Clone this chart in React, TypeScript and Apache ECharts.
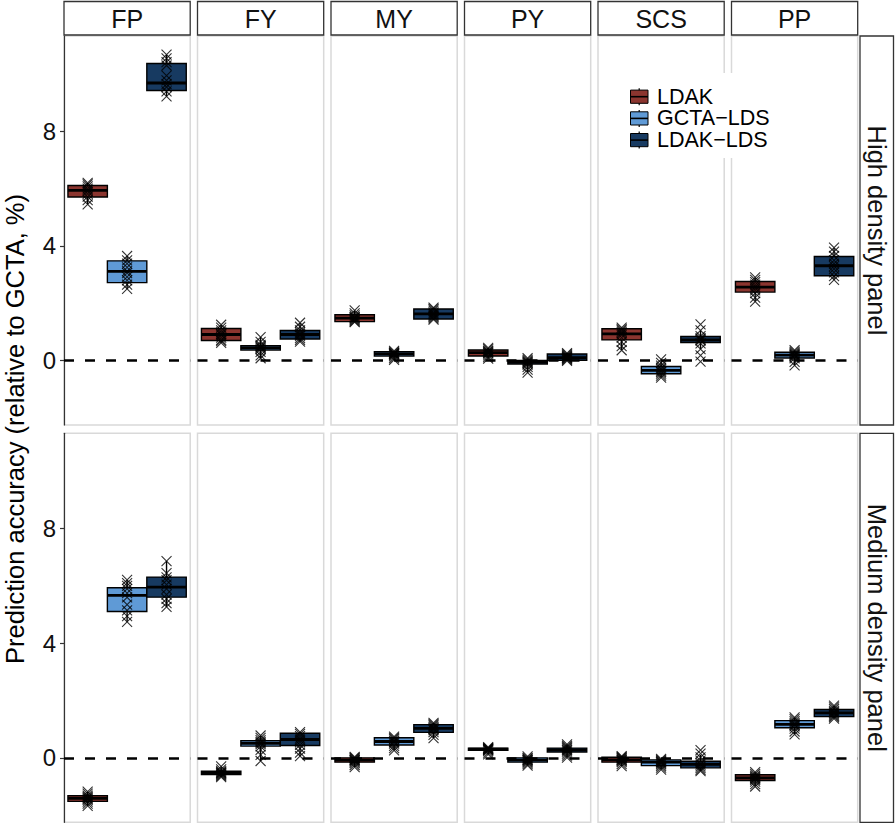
import React, { useEffect, useRef } from "react";
import * as echarts from "echarts";

const traits = ["FP", "FY", "MY", "PY", "SCS", "PP"];
const methods = ["LDAK", "GCTA−LDS", "LDAK−LDS"];
const panelLabels = ["High density panel", "Medium density panel"];
const yTitle = "Prediction accuracy (relative to GCTA, %)";
const yTicks = [0, 4, 8];
const yRange = [-2.25, 11.33];

// box stats per method: [lower whisker, Q1, median, Q3, upper whisker]
const highFP = [[5.45, 5.71, 5.94, 6.11, 6.2], [2.5, 2.72, 3.11, 3.48, 3.65], [9.22, 9.43, 9.69, 10.37, 10.68]];
const highFY = [[0.62, 0.7, 0.91, 1.12, 1.25], [0.08, 0.37, 0.45, 0.52, 0.82], [0.66, 0.75, 0.91, 1.05, 1.32]];
const highMY = [[1.34, 1.36, 1.48, 1.6, 1.75], [0.02, 0.16, 0.24, 0.31, 0.34], [1.43, 1.45, 1.63, 1.8, 1.85]];
const highPY = [[0.07, 0.16, 0.28, 0.37, 0.44], [-0.42, -0.12, -0.06, 0.0, 0.08], [-0.01, 0.01, 0.1, 0.23, 0.26]];
const highSCS = [[0.36, 0.72, 0.93, 1.11, 1.15], [-0.6, -0.46, -0.34, -0.21, 0.04], [0.4, 0.63, 0.72, 0.84, 1.05]];
const highPP = [[2.06, 2.39, 2.56, 2.76, 2.9], [-0.17, 0.09, 0.19, 0.29, 0.36], [2.82, 2.96, 3.31, 3.63, 3.94]];

const medFP = [[-1.68, -1.52, -1.41, -1.32, -1.18], [4.75, 5.11, 5.67, 5.94, 6.21], [5.27, 5.61, 5.96, 6.31, 6.87]];
const medFY = [[-0.67, -0.58, -0.52, -0.47, -0.3], [-0.11, 0.41, 0.51, 0.6, 0.78], [0.06, 0.43, 0.64, 0.86, 0.9]];
const medMY = [[-0.32, -0.15, -0.08, 0.0, 0.03], [0.26, 0.45, 0.57, 0.7, 0.74], [0.69, 0.89, 1.03, 1.16, 1.22]];
const medPY = [[0.12, 0.26, 0.3, 0.34, 0.37], [-0.27, -0.15, -0.08, 0.0, 0.05], [0.01, 0.2, 0.27, 0.34, 0.47]];
const medSCS = [[-0.29, -0.15, -0.07, 0.02, 0.06], [-0.41, -0.27, -0.15, -0.07, -0.04], [-0.46, -0.35, -0.23, -0.12, 0.1]];
const medPP = [[-1.0, -0.79, -0.7, -0.59, -0.5], [0.82, 1.05, 1.17, 1.3, 1.41], [1.37, 1.44, 1.57, 1.69, 1.82]];

// individual replicate values per method
const highFPPts = [
  [6.2, 6.15, 6.08, 6.0, 5.95, 5.9, 5.82, 5.72, 5.6, 5.45],
  [3.65, 3.5, 3.38, 3.25, 3.12, 3.05, 2.92, 2.8, 2.65, 2.5],
  [10.68, 10.55, 10.42, 10.3, 9.95, 9.78, 9.65, 9.55, 9.4, 9.22],
];
const highFYPts = [
  [1.25, 1.15, 1.05, 0.98, 0.92, 0.88, 0.8, 0.72, 0.68, 0.62],
  [0.82, 0.65, 0.55, 0.5, 0.47, 0.44, 0.4, 0.3, 0.18, 0.08],
  [1.32, 1.18, 1.05, 0.98, 0.93, 0.9, 0.85, 0.78, 0.72, 0.66],
];
const highMYPts = [
  [1.75, 1.65, 1.58, 1.52, 1.5, 1.47, 1.44, 1.4, 1.37, 1.34],
  [0.34, 0.3, 0.27, 0.25, 0.24, 0.22, 0.2, 0.15, 0.08, 0.02],
  [1.85, 1.8, 1.74, 1.68, 1.64, 1.6, 1.56, 1.52, 1.47, 1.43],
];
const highPYPts = [
  [0.44, 0.4, 0.35, 0.32, 0.29, 0.27, 0.24, 0.18, 0.12, 0.07],
  [0.08, 0.02, -0.02, -0.05, -0.07, -0.1, -0.14, -0.22, -0.32, -0.42],
  [0.26, 0.22, 0.18, 0.15, 0.12, 0.1, 0.08, 0.05, 0.02, -0.01],
];
const highSCSPts = [
  [1.15, 1.1, 1.05, 1.0, 0.95, 0.9, 0.8, 0.65, 0.5, 0.36],
  [0.04, -0.08, -0.18, -0.25, -0.3, -0.35, -0.4, -0.46, -0.53, -0.6],
  [1.26, 1.05, 0.85, 0.78, 0.74, 0.7, 0.6, 0.4, 0.18, -0.04],
];
const highPPPts = [
  [2.9, 2.82, 2.74, 2.65, 2.58, 2.52, 2.45, 2.35, 2.2, 2.06],
  [0.36, 0.3, 0.26, 0.22, 0.2, 0.17, 0.14, 0.08, -0.05, -0.17],
  [3.94, 3.8, 3.65, 3.5, 3.38, 3.3, 3.2, 3.08, 2.95, 2.82],
];

const medFPPts = [
  [-1.18, -1.25, -1.32, -1.36, -1.4, -1.43, -1.47, -1.53, -1.6, -1.68],
  [6.21, 6.1, 6.0, 5.9, 5.75, 5.6, 5.35, 5.15, 4.95, 4.75],
  [6.87, 6.45, 6.3, 6.2, 6.05, 5.9, 5.7, 5.55, 5.4, 5.27],
];
const medFYPts = [
  [-0.3, -0.4, -0.46, -0.5, -0.52, -0.54, -0.57, -0.6, -0.64, -0.67],
  [0.78, 0.7, 0.62, 0.56, 0.52, 0.48, 0.4, 0.28, 0.1, -0.11],
  [0.9, 0.84, 0.76, 0.68, 0.62, 0.55, 0.45, 0.32, 0.18, 0.06],
];
const medMYPts = [
  [0.03, 0.0, -0.03, -0.06, -0.08, -0.1, -0.13, -0.18, -0.25, -0.32],
  [0.74, 0.7, 0.65, 0.6, 0.57, 0.54, 0.5, 0.42, 0.34, 0.26],
  [1.22, 1.18, 1.13, 1.08, 1.04, 1.01, 0.97, 0.9, 0.8, 0.69],
];
const medPYPts = [
  [0.37, 0.35, 0.33, 0.31, 0.3, 0.29, 0.27, 0.24, 0.18, 0.12],
  [0.05, 0.0, -0.03, -0.06, -0.08, -0.1, -0.13, -0.17, -0.22, -0.27],
  [0.47, 0.42, 0.37, 0.33, 0.29, 0.26, 0.22, 0.15, 0.08, 0.01],
];
const medSCSPts = [
  [0.06, 0.03, 0.0, -0.03, -0.06, -0.08, -0.11, -0.15, -0.22, -0.29],
  [-0.04, -0.08, -0.11, -0.14, -0.16, -0.19, -0.23, -0.28, -0.34, -0.41],
  [0.27, 0.15, 0.02, -0.1, -0.18, -0.24, -0.3, -0.36, -0.42, -0.46],
];
const medPPPts = [
  [-0.5, -0.56, -0.62, -0.66, -0.7, -0.73, -0.77, -0.83, -0.92, -1.0],
  [1.41, 1.35, 1.28, 1.22, 1.18, 1.14, 1.1, 1.02, 0.92, 0.82],
  [1.82, 1.76, 1.7, 1.64, 1.6, 1.56, 1.52, 1.47, 1.42, 1.37],
];

const rowBoxes = [
  [highFP, highFY, highMY, highPY, highSCS, highPP],
  [medFP, medFY, medMY, medPY, medSCS, medPP],
];
const rowPoints = [
  [highFPPts, highFYPts, highMYPts, highPYPts, highSCSPts, highPPPts],
  [medFPPts, medFYPts, medMYPts, medPYPts, medSCSPts, medPPPts],
];

const COLORS = ["#8B352F", "#5F9AD6", "#173A61"];
const FONT = "'Liberation Sans', Arial, Helvetica, sans-serif";
const COL_LEFT = 64;
const PANEL_W = 126.2;
const STEP = 133.5;
const ROW_TOP = [36, 433.3];
const ROW_H = 389;
const STRIP = 33.5;
const BOX_W = 1.0;

export default function App() {
  const ref = useRef<HTMLDivElement>(null);

  useEffect(() => {
    if (!ref.current) return;
    const chart = echarts.init(ref.current, null, { renderer: "svg" });

    const grids: any[] = [];
    const xAxes: any[] = [];
    const yAxes: any[] = [];
    const series: any[] = [];

    for (let r = 0; r < 2; r++) {
      for (let c = 0; c < 6; c++) {
        const idx = r * 6 + c;
        grids.push({
          left: COL_LEFT + c * STEP,
          top: ROW_TOP[r],
          width: PANEL_W,
          height: ROW_H,
          show: true,
          borderColor: "#d9d9d9",
          borderWidth: 1.5,
          backgroundColor: "transparent",
        });
        xAxes.push({ type: "value", gridIndex: idx, min: 0.4, max: 3.6, show: false });
        yAxes.push({
          type: "value",
          gridIndex: idx,
          min: yRange[0],
          max: yRange[1],
          axisLine: { show: c === 0, onZero: false, lineStyle: { color: "#333", width: 1.2 } },
          axisTick: { show: c === 0, length: 4, customValues: yTicks, lineStyle: { color: "#333", width: 1.2 } },
          axisLabel: {
            show: c === 0,
            customValues: yTicks,
            fontSize: 24,
            color: "#111",
            margin: 8,
            fontFamily: FONT,
          },
          splitLine: { show: false },
        });
        const boxes = rowBoxes[r][c];
        const pts = rowPoints[r][c];
        series.push({
          type: "line",
          xAxisIndex: idx,
          yAxisIndex: idx,
          data: [],
          z: 1,
          silent: true,
          markLine: {
            silent: true,
            symbol: ["none", "none"],
            label: { show: false },
            lineStyle: { color: "#000", type: [10, 11], width: 2.6 },
            data: [{ yAxis: 0 }],
          },
        });
        series.push({
          type: "custom",
          xAxisIndex: idx,
          yAxisIndex: idx,
          z: 2,
          silent: true,
          encode: { x: 0, y: [1, 2, 3, 4, 5] },
          data: boxes.map((b, m) => [m + 1, b[0], b[1], b[2], b[3], b[4], m]),
          renderItem: (params: any, api: any) => {
            const x = api.value(0);
            const lo = api.coord([x, api.value(1)]);
            const q1 = api.coord([x, api.value(2)]);
            const md = api.coord([x, api.value(3)]);
            const q3 = api.coord([x, api.value(4)]);
            const hi = api.coord([x, api.value(5)]);
            const m = api.value(6);
            const w = api.size([BOX_W, 0])[0];
            const cx = q1[0];
            return {
              type: "group",
              children: [
                { type: "line", shape: { x1: cx, y1: hi[1], x2: cx, y2: q3[1] }, style: { stroke: "#000", lineWidth: 1.4 } },
                { type: "line", shape: { x1: cx, y1: q1[1], x2: cx, y2: lo[1] }, style: { stroke: "#000", lineWidth: 1.4 } },
                {
                  type: "rect",
                  shape: { x: cx - w / 2, y: q3[1], width: w, height: q1[1] - q3[1] },
                  style: { fill: COLORS[m], stroke: "#000", lineWidth: 1.4 },
                },
                {
                  type: "line",
                  shape: { x1: cx - w / 2, y1: md[1], x2: cx + w / 2, y2: md[1] },
                  style: { stroke: "#000", lineWidth: 2.8 },
                },
              ],
            };
          },
        });
        series.push({
          type: "scatter",
          xAxisIndex: idx,
          yAxisIndex: idx,
          z: 3,
          silent: true,
          symbol: "path://M0 0L10 10M10 0L0 10",
          symbolSize: 10,
          itemStyle: { color: "transparent", borderColor: "#000", borderWidth: 1.1 },
          data: pts.flatMap((arr, m) => arr.map((v) => [m + 1, v])),
        });
      }
    }

    const graphics: any[] = [];
    // top strips
    traits.forEach((t, c) => {
      const x = COL_LEFT + c * STEP;
      graphics.push({
        type: "rect",
        shape: { x, y: 1.5, width: PANEL_W, height: STRIP },
        style: { fill: "#fff", stroke: "#333", lineWidth: 1.3 },
        z: 5,
      });
      graphics.push({
        type: "text",
        x: x + PANEL_W / 2,
        y: 19,
        z: 6,
        style: {
          text: t,
          fontSize: 25,
          fontFamily: FONT,
          fill: "#111",
          align: "center",
          verticalAlign: "middle",
          textAlign: "center",
          textVerticalAlign: "middle",
        },
      });
    });
    // right strips
    panelLabels.forEach((p, r) => {
      graphics.push({
        type: "rect",
        shape: { x: 860, y: ROW_TOP[r], width: STRIP, height: ROW_H },
        style: { fill: "#fff", stroke: "#333", lineWidth: 1.3 },
        z: 5,
      });
      graphics.push({
        type: "text",
        x: 877,
        y: ROW_TOP[r] + ROW_H / 2,
        rotation: -Math.PI / 2,
        z: 6,
        style: {
          text: p,
          fontSize: 25.5,
          fontFamily: FONT,
          fill: "#111",
          align: "center",
          verticalAlign: "middle",
          textAlign: "center",
          textVerticalAlign: "middle",
        },
      });
    });
    // y axis title
    graphics.push({
      type: "text",
      x: 15,
      y: 429,
      rotation: Math.PI / 2,
      z: 6,
      style: {
        text: yTitle,
        fontSize: 25.5,
        fontFamily: FONT,
        fill: "#000",
        align: "center",
        verticalAlign: "middle",
        textAlign: "center",
        textVerticalAlign: "middle",
      },
    });
    // legend
    graphics.push({
      type: "rect",
      shape: { x: 622, y: 73, width: 160, height: 85 },
      style: { fill: "#fff" },
      z: 10,
    });
    methods.forEach((name, m) => {
      const cy = 96.7 + m * 21.7;
      graphics.push({
        type: "line",
        shape: { x1: 639.2, y1: cy - 8.5, x2: 639.2, y2: cy + 8.5 },
        style: { stroke: "#000", lineWidth: 1.2 },
        z: 11,
      });
      graphics.push({
        type: "rect",
        shape: { x: 630.5, y: cy - 6.6, width: 17.5, height: 13.2 },
        style: { fill: COLORS[m], stroke: "#000", lineWidth: 1 },
        z: 12,
      });
      graphics.push({
        type: "line",
        shape: { x1: 630.5, y1: cy, x2: 648, y2: cy },
        style: { stroke: "#000", lineWidth: 1.6 },
        z: 13,
      });
      graphics.push({
        type: "text",
        x: 657,
        y: cy,
        z: 13,
        style: {
          text: name,
          fontSize: 21.5,
          fontFamily: FONT,
          fill: "#000",
          align: "left",
          verticalAlign: "middle",
          textAlign: "left",
          textVerticalAlign: "middle",
        },
      });
    });

    chart.setOption({
      animation: false,
      backgroundColor: "#fff",
      textStyle: { fontFamily: FONT },
      grid: grids,
      xAxis: xAxes,
      yAxis: yAxes,
      series,
      graphic: { elements: graphics },
    });

    return () => chart.dispose();
  }, []);

  return (
    <div
      ref={ref}
      style={{ position: "absolute", left: 0, top: 0, width: 896, height: 825 }}
    />
  );
}
